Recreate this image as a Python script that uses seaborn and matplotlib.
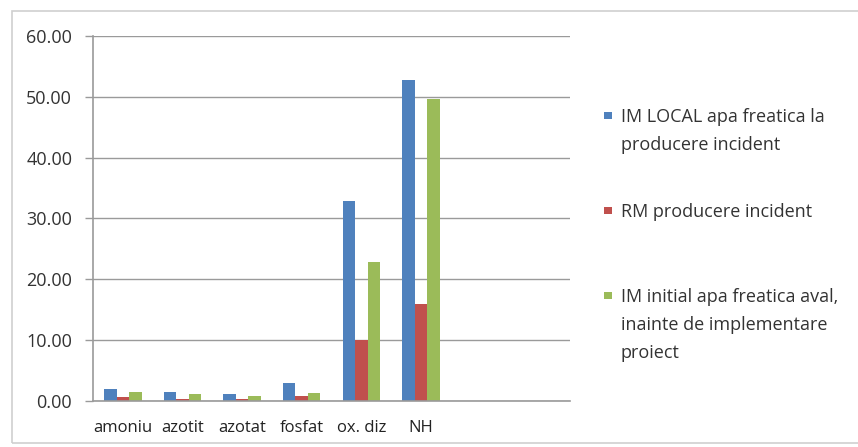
import matplotlib
matplotlib.use("Agg")
import matplotlib.pyplot as plt
import seaborn as sns
import pandas as pd
from matplotlib.patches import Rectangle

# Indicator categories (two trailing empty slots on the axis)
categories = ["amoniu", "azotit", "azotat", "fosfat", "ox. diz", "NH"]
empty_slots = ["_gol1", "_gol2"]

series_names = [
    "IM LOCAL apa freatica la\nproducere incident",
    "RM producere incident",
    "IM initial apa freatica aval,\ninainte de implementare\nproiect",
]
im_local = [1.90, 1.50, 1.10, 2.95, 32.80, 52.80]
rm_incident = [0.65, 0.35, 0.25, 0.80, 10.00, 15.90]
im_initial = [1.50, 1.10, 0.80, 1.20, 22.90, 49.60]

y_ticks = [0, 10, 20, 30, 40, 50, 60]

colors = ["#4F81BD", "#C0504D", "#9BBB59"]

rows = []
for name, vals in zip(series_names, [im_local, rm_incident, im_initial]):
    for cat, v in zip(categories, vals):
        rows.append({"categorie": cat, "serie": name, "valoare": v})
df = pd.DataFrame(rows)

sns.set_theme(style="white")
plt.rcParams["font.family"] = ["Open Sans", "DejaVu Sans"]

W, H = 858, 447
fig = plt.figure(figsize=(W / 100, H / 100), dpi=100)
ax = fig.add_axes([93 / W, 1 - 400.7 / H, (570 - 93) / W, (400.7 - 36) / H])

order = categories + empty_slots
sns.barplot(data=df, x="categorie", y="valoare", hue="serie", order=order,
            hue_order=series_names, palette=colors, width=0.63,
            saturation=1, linewidth=0, ax=ax, legend=False)

ax.set_ylim(0, 60)
ax.set_xlim(-0.5, len(order) - 0.5)
ax.set_yticks(y_ticks)
ax.set_yticklabels([f"{t:.2f}" for t in y_ticks], fontsize=13, color="#333333")
ax.set_xticks(range(len(order)))
ax.set_xticklabels(categories + ["", ""], fontsize=12, color="#222222")
ax.tick_params(axis="x", which="major", length=0, pad=14)
ax.set_xticks([i - 0.5 for i in range(len(order) + 1)], minor=True)
ax.tick_params(axis="x", which="minor", length=4, color="#9a9a9a", width=1, direction="out")
ax.tick_params(axis="y", length=6, color="#9a9a9a", width=1, pad=9, direction="out", left=True)
ax.set_xlabel("")
ax.set_ylabel("")

ax.grid(axis="y", color="#9a9a9a", linewidth=1)
ax.set_axisbelow(True)
for side in ["top", "right"]:
    ax.spines[side].set_visible(False)
for side in ["left", "bottom"]:
    ax.spines[side].set_color("#9a9a9a")
    ax.spines[side].set_linewidth(1.2)

# Legend: square marker aligned with the first line of each entry
legend_top = [115, 210, 295]
line_step = 28
for name, color, y0 in zip(series_names, colors, legend_top):
    fig.patches.append(Rectangle((604 / W, 1 - (y0 + 3.5) / H), 8 / W, 7 / H,
                                 transform=fig.transFigure, facecolor=color,
                                 edgecolor="none"))
    for k, line in enumerate(name.split("\n")):
        fig.text(621 / W, 1 - (y0 + k * line_step) / H, line, fontsize=13,
                 color="#333333", va="center_baseline", ha="left")

# Chart area frame
fig.patches.append(Rectangle((12 / W, 4 / H), 860 / W, (443 - 11) / H,
                             transform=fig.transFigure, fill=False,
                             edgecolor="#cfcfcf", linewidth=1.2))

fig.savefig("out.png", dpi=100)
